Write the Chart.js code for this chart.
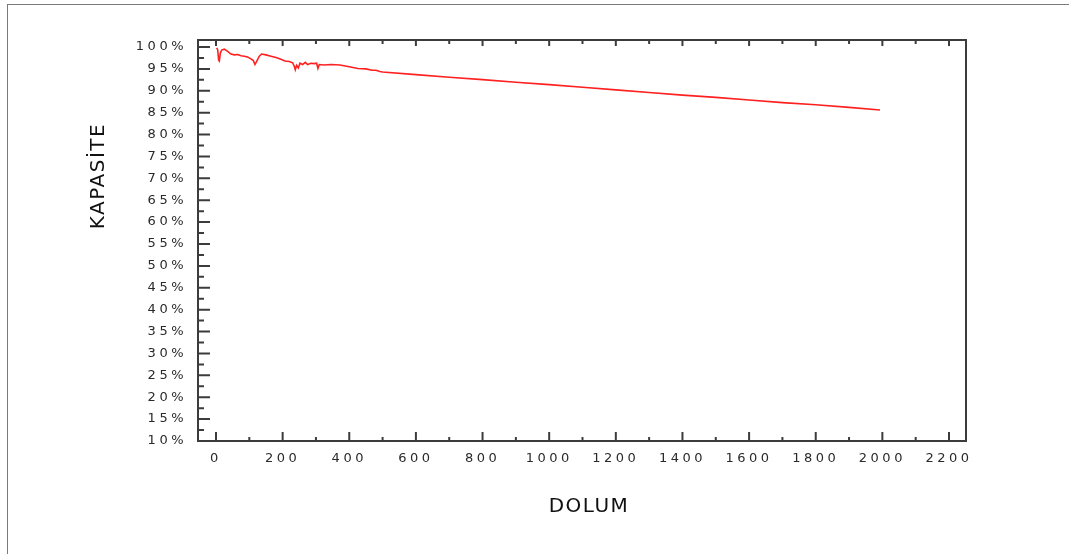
<!DOCTYPE html>
<html>

<head>
    <title>Kapasite</title>
    <script src="https://cdn.jsdelivr.net/npm/chart.js@4.4.1/dist/chart.umd.min.js"></script>
    <style>
        body { margin: 0; background: #fff; }
        #frame { position: absolute; left: 7px; top: 4px; width: 1080px; height: 560px; border: 1.5px solid #7a7a7a; }
        #ctx { position: absolute; left: 0; top: 0; }
    </style>
</head>

<body>
    <div id="frame"></div>
    <canvas id="ctx" width="1069" height="554"></canvas>

    <script>
        // dolum (charge cycles) and kapasite (%)
        const dolum = [2, 5, 8, 10, 13, 17, 25, 35, 45, 55, 65, 75, 85, 95, 105, 112, 117, 122, 130, 137,
            150, 165, 180, 195, 207, 220, 230, 235, 238, 242, 247, 252, 260, 268, 275, 285, 295, 302, 306, 310,
            325, 345, 372, 400, 426, 450, 468, 480, 492, 500,
            600, 700, 800, 900, 1000, 1100, 1200, 1300, 1400, 1500, 1600, 1700, 1800, 1900, 1993];
        const kapasite = [99.8, 99.4, 97.0, 96.8, 98.6, 99.3, 99.5, 99.0, 98.4, 98.2, 98.3, 98.0, 97.9, 97.7, 97.3, 96.9, 96.0, 96.7, 97.9, 98.4,
            98.2, 97.9, 97.6, 97.2, 96.8, 96.7, 96.4, 95.6, 94.8, 95.8, 95.2, 96.3, 96.0, 96.5, 96.0, 96.3, 96.2, 96.3, 95.1, 96.0,
            95.9, 96.0, 95.9, 95.5, 95.1, 95.0, 94.7, 94.7, 94.4, 94.3,
            93.7, 93.1, 92.55, 91.95, 91.4, 90.8, 90.2, 89.6, 89.0, 88.5, 87.9, 87.3, 86.8, 86.2, 85.6];

        const xTicks = [0, 200, 400, 600, 800, 1000, 1200, 1400, 1600, 1800, 2000, 2200];
        const yTicks = [10, 15, 20, 25, 30, 35, 40, 45, 50, 55, 60, 65, 70, 75, 80, 85, 90, 95, 100];
        const xTitle = 'DOLUM';
        const yTitle = 'KAPASİTE';

        const tickFont = { family: 'DejaVu Sans', size: 13 };

        // ticks inside the box, box outline and axis titles
        const frame = {
            id: 'frame',
            beforeLayout(chart) { chart.ctx.letterSpacing = '3.5px'; },
            beforeDraw(chart) { chart.ctx.letterSpacing = '3.5px'; },
            afterDraw(chart) {
                const c = chart.ctx, a = chart.chartArea;
                const xs = chart.scales.x, ys = chart.scales.y;
                c.save();
                c.strokeStyle = '#3c3c3c';
                c.lineWidth = 2;
                c.beginPath();
                yTicks.forEach(v => {
                    let p = ys.getPixelForValue(v);
                    c.moveTo(a.left, p); c.lineTo(a.left + 12, p);
                    if (v < 100) {
                        p = ys.getPixelForValue(v + 2.5);
                        c.moveTo(a.left, p); c.lineTo(a.left + 6, p);
                    }
                });
                xTicks.forEach(v => {
                    let p = xs.getPixelForValue(v);
                    c.moveTo(p, a.bottom); c.lineTo(p, a.bottom - 9);
                    c.moveTo(p, a.top); c.lineTo(p, a.top + 6);
                    if (v < 2200) {
                        p = xs.getPixelForValue(v + 100);
                        c.moveTo(p, a.bottom); c.lineTo(p, a.bottom - 4);
                        c.moveTo(p, a.top); c.lineTo(p, a.top + 4);
                    }
                });
                c.stroke();
                c.strokeRect(a.left, a.top, a.right - a.left, a.bottom - a.top);

                c.letterSpacing = '1.5px';
                c.fillStyle = '#111';
                c.font = '20px "DejaVu Sans"';
                c.textAlign = 'center';
                c.textBaseline = 'middle';
                c.fillText(xTitle, (a.left + a.right) / 2 + 7, a.bottom + 66);
                c.translate(a.left - 99, a.top + 136);
                c.rotate(-Math.PI / 2);
                c.fillText(yTitle, 0, 0);
                c.restore();
            }
        };

        var chart = new Chart(document.getElementById('ctx'), {
            type: 'line',
            data: {
                datasets: [{
                    data: dolum.map((d, i) => ({ x: d, y: kapasite[i] })),
                    borderColor: '#ff2020',
                    borderWidth: 1.6,
                    pointRadius: 0,
                    tension: 0,
                    fill: false
                }]
            },
            options: {
                responsive: false,
                animation: false,
                layout: { padding: { left: 0, right: 103, top: 40, bottom: 0 } },
                plugins: { legend: { display: false }, tooltip: { enabled: false } },
                scales: {
                    x: {
                        type: 'linear',
                        min: -54,
                        max: 2251,
                        afterBuildTicks: s => { s.ticks = xTicks.map(v => ({ value: v })); },
                        afterFit: s => { s.height = 113; },
                        grid: { display: false, drawTicks: false },
                        border: { display: false },
                        ticks: { font: tickFont, color: '#2a2a2a', padding: 10, maxRotation: 0, autoSkip: false, callback: v => String(v) }
                    },
                    y: {
                        min: 10,
                        max: 101.6,
                        afterBuildTicks: s => { s.ticks = yTicks.map(v => ({ value: v })); },
                        afterFit: s => { s.width = 198; },
                        grid: { display: false, drawTicks: false },
                        border: { display: false },
                        ticks: { font: tickFont, color: '#2a2a2a', padding: 11, autoSkip: false, callback: v => v + '%' }
                    }
                }
            },
            plugins: [frame]
        });
    </script>
</body>

</html>
